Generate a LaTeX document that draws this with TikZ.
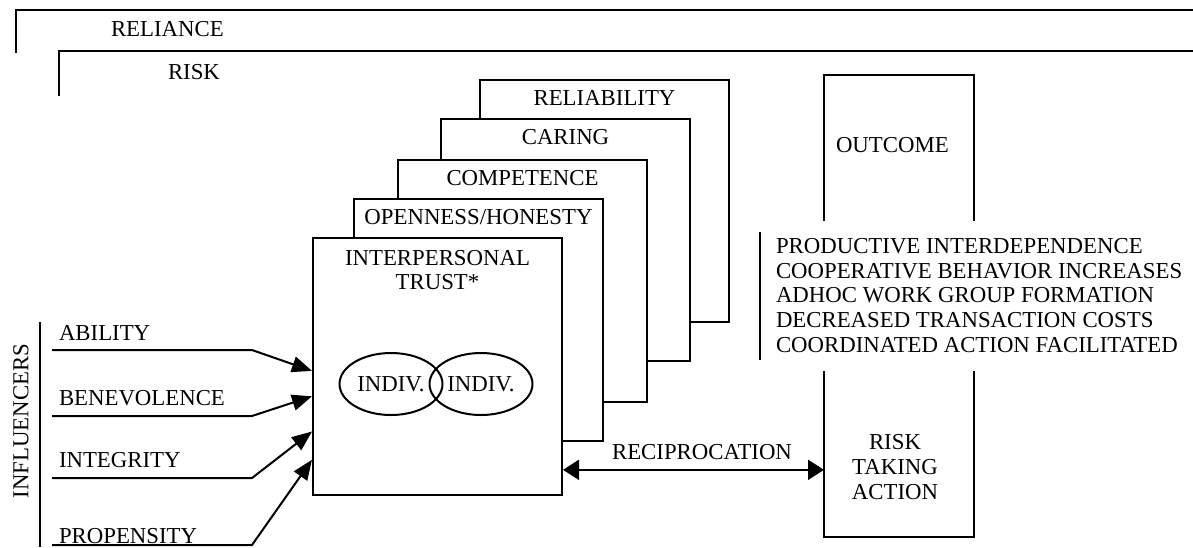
\documentclass[tikz,border=0pt]{standalone}
\usepackage{fontspec}
\setmainfont{Liberation Serif}
\usetikzlibrary{arrows.meta,positioning,shapes.geometric,calc}

\begin{document}
\begin{tikzpicture}[x=0.5pt,y=-0.5pt,line width=1pt,
	font=\fontsize{11.4}{12.3}\selectfont,
	layer/.style={draw,fill=white,anchor=north west,inner sep=0pt,minimum width=124.5pt,minimum height=121pt},
	lbl/.style={inner sep=2pt,text height=7.6pt,text depth=0pt},
	indiv/.style={draw,ellipse,inner sep=0pt,minimum width=51.5pt,minimum height=31pt},
	feed/.style={-{Triangle[length=10pt,width=8pt]}},
	recip/.style={{Triangle[length=8pt,width=10pt]}-{Triangle[length=8pt,width=10pt]}}]
	\useasboundingbox (0,0) rectangle (1193,547);
	% frames
	\draw (16,53) |- (1193,10);
	\node[anchor=west,inner sep=0pt](reliance) at (110,29){RELIANCE};
	\draw (59,96) |- (1193,51);
	\node[anchor=west,inner sep=0pt](risk) at (167,72){RISK};
	% stacked trust layers
	\node[layer](reli) at (479,79){};
	\node[lbl,below=3pt of reli.north](reliT){RELIABILITY};
	\node[layer](care) at (440,118){};
	\node[lbl,below=3pt of care.north](careT){CARING};
	\node[layer](comp) at (397,159){};
	\node[lbl,below=3pt of comp.north](compT){COMPETENCE};
	\node[layer](open) at (353,198){};
	\node[lbl,below=3pt of open.north](openT){OPENNESS/HONESTY};
	\node[layer,minimum height=128.5pt](trust) at (312,237){};
	\node[align=center,inner sep=0pt,below=6pt of trust.north](trustT){INTERPERSONAL\\TRUST*};
	\node[indiv](indivA) at (391,384){INDIV.};
	\node[indiv,right=-7.5pt of indivA](indivB){INDIV.};
	% influencers
	\draw (40,322) -- (40,547);
	\node[rotate=90,inner sep=0pt](infl) at (21,421){INFLUENCERS};
	\node[anchor=base west,inner sep=0pt](abil) at (58,340.5){ABILITY};
	\node[anchor=base west,inner sep=0pt](bene) at (58,405.5){BENEVOLENCE};
	\node[anchor=base west,inner sep=0pt](integ) at (58,467.5){INTEGRITY};
	\node[anchor=base west,inner sep=0pt](prop) at (58,543){PROPENSITY};
	\coordinate (abilS) at (52,350);
	\coordinate (beneS) at (52,416);
	\coordinate (integS) at (52,478);
	\coordinate (propS) at (52,545);
	\coordinate (tipA) at ($(trust.north west)!0.517!(trust.south west)$);
	\coordinate (tipB) at ($(trust.north west)!0.615!(trust.south west)$);
	\coordinate (tipC) at ($(trust.north west)!0.751!(trust.south west)$);
	\coordinate (tipD) at ($(trust.north west)!0.86!(trust.south west)$);
	\draw[feed](abilS) -- ++(200,0) -- (tipA);
	\draw[feed](beneS) -- ++(200,0) -- (tipB);
	\draw[feed](integS) -- ++(200,0) -- (tipC);
	\draw[feed](propS) -- ++(200,0) -- (tipD);
	% outcome side
	\node[minimum width=74pt,minimum height=72pt,inner sep=0pt](outc) at (899,148){};
	\draw (outc.south west) -- (outc.north west) -- (outc.north east) -- (outc.south east);
	\node[anchor=west,inner sep=0pt](outcT) at (835,145){OUTCOME};
	\draw (760,232) -- (760,360);
	\node[anchor=north west,align=left,inner sep=0pt](effects) at (775,237.5){PRODUCTIVE INTERDEPENDENCE\\COOPERATIVE BEHAVIOR INCREASES\\ADHOC WORK GROUP FORMATION\\DECREASED TRANSACTION COSTS\\COORDINATED ACTION FACILITATED};
	\node[minimum width=74pt,minimum height=82pt,inner sep=0pt](act) at (899,454){};
	\draw (act.north west) -- (act.south west) -- (act.south east) -- (act.north east);
	\node[align=center,inner sep=0pt](actT) at (895,467){RISK\\TAKING\\ACTION};
	% reciprocation
	\coordinate (recL) at ($(trust.north east)!0.899!(trust.south east)$);
	\draw[recip](recL) -- (recL -| act.west);
	\node[inner sep=0pt](recT) at (702,452){RECIPROCATION};
\end{tikzpicture}
\end{document}
